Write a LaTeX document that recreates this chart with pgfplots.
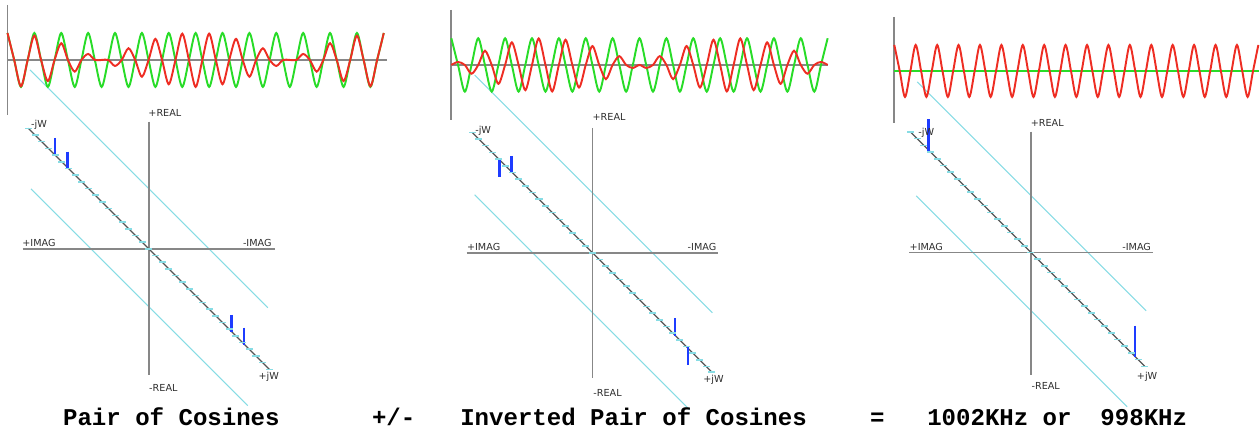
\documentclass[border=0pt]{standalone}
\usepackage{pgfplots}
\pgfplotsset{compat=1.18}
\usepackage{fontspec}
\setmainfont{DejaVu Sans}
\setmonofont{Liberation Mono}

\definecolor{wgreen}{RGB}{40,220,40}
\definecolor{wred}{RGB}{238,45,35}
\definecolor{lcyan}{RGB}{135,220,228}
\definecolor{bbar}{RGB}{30,60,255}
\definecolor{agray}{RGB}{135,135,135}
\definecolor{dgray}{RGB}{85,85,85}
\definecolor{lbl}{RGB}{45,45,45}

\newcommand{\lblfont}{\fontsize{5.5}{6.5}\selectfont\color{lbl}}
\newcommand{\capfont}{\ttfamily\bfseries\fontsize{13.7}{16}\selectfont}

\begin{document}
\begin{tikzpicture}
\begin{axis}[
    width=25.2cm, height=8.7cm, scale only axis,
    xmin=0, xmax=1260, ymin=0, ymax=435,
    y dir=reverse, hide axis, clip=false,
    every node/.style={inner sep=0pt},
    jw/.style={dgray, line width=0.7pt, mark=-, mark size=2pt,
        mark options={lcyan, line width=0.9pt}},
]
% frame for the bounding box
\addplot[draw=none] coordinates {(0,0)(1260,435)};

% ---------- parallel cyan guides ----------
\addplot[lcyan, line width=0.6pt] coordinates {(30,70)(268,308)};
\addplot[lcyan, line width=0.6pt] coordinates {(31,189)(248,406)};
\addplot[lcyan, line width=0.6pt] coordinates {(475,75)(713,313)};
\addplot[lcyan, line width=0.6pt] coordinates {(475,195)(690,410)};
\addplot[lcyan, line width=0.6pt] coordinates {(918,82)(1147,311)};
\addplot[lcyan, line width=0.6pt] coordinates {(917,196)(1128,407)};

% ---------- waveform frames ----------
\addplot[agray, line width=1pt] coordinates {(7.5,5)(7.5,115)};
\addplot[agray, line width=1pt] coordinates {(7.5,60)(387,60)};
\addplot[agray, line width=1pt] coordinates {(451.7,10)(451.7,120)};
\addplot[agray, line width=1pt] coordinates {(451.7,65)(829,65)};
\addplot[agray, line width=1pt] coordinates {(895,17)(895,123)};
\addplot[agray, line width=1pt] coordinates {(895,71)(1260,71)};

% ---------- panel 1: pair of cosines ----------
\addplot[wgreen, line width=1.1pt, smooth] coordinates {
(7.5,33)(14.2,60)(21.0,87)(27.7,60)(34.4,33)(41.1,60)(47.9,87)(54.6,60)(61.3,33)(68.0,60)(74.8,87)(81.5,60)
(88.2,33)(94.9,60)(101.7,87)(108.4,60)(115.1,33)(121.8,60)(128.6,87)(135.3,60)(142.0,33)(148.7,60)(155.5,87)(162.2,60)
(168.9,33)(175.6,60)(182.4,87)(189.1,60)(195.8,33)(202.5,60)(209.3,87)(216.0,60)(222.7,33)(229.4,60)(236.2,87)(242.9,60)
(249.6,33)(256.3,60)(263.1,87)(269.8,60)(276.5,33)(283.2,60)(290.0,87)(296.7,60)(303.4,33)(310.1,60)(316.9,87)(323.6,60)
(330.3,33)(337.0,60)(343.8,87)(350.5,60)(357.2,33)(363.9,60)(370.7,87)(377.4,60)(384.1,33)};
\addplot[wred, line width=1.1pt, smooth] coordinates {
(7.5,33)(14.2,60)(21.0,86.3)(27.7,60)(34.4,35.7)(41.1,60)(47.9,81.1)(54.6,60)(61.3,43.2)(68.0,60)(74.8,71.7)(81.5,60)
(88.2,54.0)(94.9,60)(101.7,60)(108.4,60)(115.1,66.0)(121.8,60)(128.6,48.3)(135.3,60)(142.0,76.8)(148.7,60)(155.5,38.9)(162.2,60)
(168.9,84.3)(175.6,60)(182.4,33.7)(189.1,60)(195.8,87)(202.5,60)(209.3,33.7)(216.0,60)(222.7,84.3)(229.4,60)(236.2,38.9)(242.9,60)
(249.6,76.8)(256.3,60)(263.1,48.3)(269.8,60)(276.5,66.0)(283.2,60)(290.0,60)(296.7,60)(303.4,54.0)(310.1,60)(316.9,71.7)(323.6,60)
(330.3,43.2)(337.0,60)(343.8,81.1)(350.5,60)(357.2,35.7)(363.9,60)(370.7,86.3)(377.4,60)(384.1,33)};

% ---------- panel 2: inverted pair ----------
\addplot[wgreen, line width=1.1pt, smooth] coordinates {
(451.7,38.3)(458.4,65)(465.2,91.7)(471.9,65)(478.6,38.3)(485.3,65)(492.1,91.7)(498.8,65)(505.5,38.3)(512.2,65)(519.0,91.7)(525.7,65)
(532.4,38.3)(539.1,65)(545.9,91.7)(552.6,65)(559.3,38.3)(566.0,65)(572.8,91.7)(579.5,65)(586.2,38.3)(592.9,65)(599.7,91.7)(606.4,65)
(613.1,38.3)(619.8,65)(626.6,91.7)(633.3,65)(640.0,38.3)(646.7,65)(653.5,91.7)(660.2,65)(666.9,38.3)(673.6,65)(680.4,91.7)(687.1,65)
(693.8,38.3)(700.5,65)(707.3,91.7)(714.0,65)(720.7,38.3)(727.4,65)(734.2,91.7)(740.9,65)(747.6,38.3)(754.3,65)(761.1,91.7)(767.8,65)
(774.5,38.3)(781.2,65)(788.0,91.7)(794.7,65)(801.4,38.3)(808.1,65)(814.9,91.7)(821.6,65)(828.3,38.3)};
\addplot[wred, line width=1.1pt, smooth] coordinates {
(451.7,65)(458.4,62.0)(465.2,65)(471.9,73.8)(478.6,65)(485.3,50.8)(492.1,65)(498.8,83.9)(505.5,65)(512.2,42.4)(519.0,65)(525.7,90.2)
(532.4,65)(539.1,38.5)(545.9,65)(552.6,91.5)(559.3,65)(566.0,39.8)(572.8,65)(579.5,87.6)(586.2,65)(592.9,46.1)(599.7,65)(606.4,79.2)
(613.1,65)(619.8,56.2)(626.6,65)(633.3,68.0)(640.0,65)(646.7,68.0)(653.5,65)(660.2,56.2)(666.9,65)(673.6,79.2)(680.4,65)(687.1,46.1)
(693.8,65)(700.5,87.6)(707.3,65)(714.0,39.8)(720.7,65)(727.4,91.5)(734.2,65)(740.9,38.5)(747.6,65)(754.3,90.2)(761.1,65)(767.8,42.4)
(774.5,65)(781.2,83.9)(788.0,65)(794.7,50.8)(801.4,65)(808.1,73.8)(814.9,65)(821.6,62.0)(828.3,65)};

% ---------- panel 3: result ----------
\addplot[wgreen, line width=1.1pt] coordinates {(895,71)(1260,71)};
\addplot[wred, line width=1.1pt, smooth] coordinates {
(895.0,45)(900.4,71)(905.7,97)(911.1,71)(916.4,45)(921.8,71)(927.1,97)(932.5,71)(937.9,45)(943.2,71)(948.6,97)(953.9,71)
(959.3,45)(964.6,71)(970.0,97)(975.4,71)(980.7,45)(986.1,71)(991.4,97)(996.8,71)(1002.2,45)(1007.5,71)(1012.9,97)(1018.2,71)
(1023.6,45)(1028.9,71)(1034.3,97)(1039.7,71)(1045.0,45)(1050.4,71)(1055.7,97)(1061.1,71)(1066.4,45)(1071.8,71)(1077.2,97)(1082.5,71)
(1087.9,45)(1093.2,71)(1098.6,97)(1103.9,71)(1109.3,45)(1114.7,71)(1120.0,97)(1125.4,71)(1130.7,45)(1136.1,71)(1141.4,97)(1146.8,71)
(1152.2,45)(1157.5,71)(1162.9,97)(1168.2,71)(1173.6,45)(1178.9,71)(1184.3,97)(1189.7,71)(1195.0,45)(1200.4,71)(1205.7,97)(1211.1,71)
(1216.5,45)(1221.8,71)(1227.2,97)(1232.5,71)(1237.9,45)(1243.2,71)(1248.6,97)(1254.0,71)(1259.3,45)};

% ---------- complex plane axes ----------
\addplot[agray, line width=0.9pt] coordinates {(149,121.7)(149,375)};
\addplot[agray, line width=0.9pt] coordinates {(22.7,249)(275,249)};
\addplot[agray, line width=0.9pt] coordinates {(593,128)(593,378)};
\addplot[agray, line width=0.9pt] coordinates {(467,253)(719,253)};
\addplot[agray, line width=0.9pt] coordinates {(1031.7,131.7)(1031.7,375)};
\addplot[agray, line width=0.9pt] coordinates {(910,252.7)(1154,252.7)};

% ---------- jW lines with frequency ticks ----------
\addplot[jw] coordinates {
(28.4,128.4)(35.1,135.1)(41.8,141.8)(48.5,148.5)(55.2,155.2)(61.9,161.9)(68.6,168.6)(75.3,175.3)(82.0,182.0)
(88.7,188.7)(95.4,195.4)(102.1,202.1)(108.8,208.8)(115.5,215.5)(122.2,222.2)(128.9,228.9)(135.6,235.6)(142.3,242.3)
(149.0,249.0)(155.7,255.7)(162.4,262.4)(169.1,269.1)(175.8,275.8)(182.5,282.5)(189.2,289.2)(195.9,295.9)(202.6,302.6)
(209.3,309.3)(216.0,316.0)(222.7,322.7)(229.4,329.4)(236.1,336.1)(242.8,342.8)(249.5,349.5)(256.2,356.2)(262.9,362.9)(269.6,369.6)};
\addplot[jw] coordinates {
(472.4,132.4)(479.1,139.1)(485.8,145.8)(492.5,152.5)(499.2,159.2)(505.9,165.9)(512.6,172.6)(519.3,179.3)(526.0,186.0)
(532.7,192.7)(539.4,199.4)(546.1,206.1)(552.8,212.8)(559.5,219.5)(566.2,226.2)(572.9,232.9)(579.6,239.6)(586.3,246.3)
(593.0,253.0)(599.7,259.7)(606.4,266.4)(613.1,273.1)(619.8,279.8)(626.5,286.5)(633.2,293.2)(639.9,299.9)(646.6,306.6)
(653.3,313.3)(660.0,320.0)(666.7,326.7)(673.4,333.4)(680.1,340.1)(686.8,346.8)(693.5,353.5)(700.2,360.2)(706.9,366.9)(712.0,372.0)};
\addplot[jw] coordinates {
(911.1,132.1)(917.8,138.8)(924.5,145.5)(931.2,152.2)(937.9,158.9)(944.6,165.6)(951.3,172.3)(958.0,179.0)(964.7,185.7)
(971.4,192.4)(978.1,199.1)(984.8,205.8)(991.5,212.5)(998.2,219.2)(1004.9,225.9)(1011.6,232.6)(1018.3,239.3)(1025.0,246.0)
(1031.7,252.7)(1038.4,259.4)(1045.1,266.1)(1051.8,272.8)(1058.5,279.5)(1065.2,286.2)(1071.9,292.9)(1078.6,299.6)(1085.3,306.3)
(1092.0,313.0)(1098.7,319.7)(1105.4,326.4)(1112.1,333.1)(1118.8,339.8)(1125.5,346.5)(1132.2,353.2)(1138.9,359.9)(1145.6,366.6)};

% ---------- spectral lines ----------
\addplot[bbar, line width=1.4pt] coordinates {(55,138)(55,155)};
\addplot[bbar, line width=1.4pt] coordinates {(67.7,151.7)(67.7,167.7)};
\addplot[bbar, line width=1.4pt] coordinates {(231.7,315)(231.7,332)};
\addplot[bbar, line width=1.4pt] coordinates {(244,328)(244,345)};
\addplot[bbar, line width=1.4pt] coordinates {(500,159.3)(500,176.7)};
\addplot[bbar, line width=1.4pt] coordinates {(511.7,156)(511.7,172.7)};
\addplot[bbar, line width=1.4pt] coordinates {(675.7,318.3)(675.7,336.7)};
\addplot[bbar, line width=1.4pt] coordinates {(688.3,346.7)(688.3,365)};
\addplot[bbar, line width=1.4pt] coordinates {(929.3,119.3)(929.3,151)};
\addplot[bbar, line width=1.4pt] coordinates {(1136,326)(1136,357)};

% ---------- axis labels ----------
\node[font=\lblfont] at (axis cs:165,113) {+REAL};
\node[font=\lblfont] at (axis cs:163.5,388) {-REAL};
\node[font=\lblfont] at (axis cs:39,243) {+IMAG};
\node[font=\lblfont] at (axis cs:257.5,243) {-IMAG};
\node[font=\lblfont] at (axis cs:39,125) {-jW};
\node[font=\lblfont] at (axis cs:269,377) {+jW};

\node[font=\lblfont] at (axis cs:609.5,117) {+REAL};
\node[font=\lblfont] at (axis cs:608,393) {-REAL};
\node[font=\lblfont] at (axis cs:484,247) {+IMAG};
\node[font=\lblfont] at (axis cs:702.5,247) {-IMAG};
\node[font=\lblfont] at (axis cs:483.5,131) {-jW};
\node[font=\lblfont] at (axis cs:714,380) {+jW};

\node[font=\lblfont] at (axis cs:1048,122.7) {+REAL};
\node[font=\lblfont] at (axis cs:1046.5,386.7) {-REAL};
\node[font=\lblfont] at (axis cs:927,246.7) {+IMAG};
\node[font=\lblfont] at (axis cs:1137.5,246.7) {-IMAG};
\node[font=\lblfont] at (axis cs:927,133) {-jW};
\node[font=\lblfont] at (axis cs:1148,376.7) {+jW};

% ---------- caption line ----------
\node[font=\capfont, anchor=base] at (axis cs:171.5,426) {Pair of Cosines};
\node[font=\capfont, anchor=base] at (axis cs:394,426) {+/-};
\node[font=\capfont, anchor=base] at (axis cs:634,426) {Inverted Pair of Cosines};
\node[font=\capfont, anchor=base] at (axis cs:878,426) {=};
\node[font=\capfont, anchor=base] at (axis cs:1058,426) {1002KHz or\ \ 998KHz};
\end{axis}
\end{tikzpicture}
\end{document}
